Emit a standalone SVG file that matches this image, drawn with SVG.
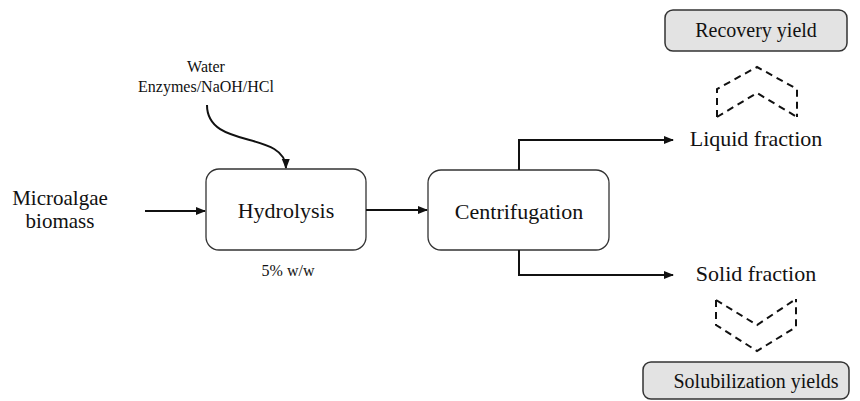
<svg xmlns="http://www.w3.org/2000/svg" width="860" height="401" viewBox="0 0 860 401" font-family="'Liberation Serif', 'Times New Roman', serif">
<style>
text{font-family:'Liberation Serif','Times New Roman',serif;fill:#111;text-anchor:middle}
.box{fill:#fff;stroke:#333;stroke-width:1.3}
.gbox{fill:#e3e3e3;stroke:#333;stroke-width:1.5}
.ln{fill:none;stroke:#111;stroke-width:2}
.dash{fill:none;stroke:#111;stroke-width:2;stroke-dasharray:7 5}
</style>
<defs>
<marker id="ah" markerWidth="10" markerHeight="10" refX="9" refY="5" orient="auto" markerUnits="userSpaceOnUse">
<path d="M0,1 L10,5 L0,9 Z" fill="#111"/>
</marker>
</defs>
<rect width="860" height="401" fill="#fff"/>
<g id="input-label">
<text x="60" y="205" font-family="'Liberation Serif', serif" font-size="21">Microalgae</text>
<text x="60" y="228" font-family="'Liberation Serif', serif" font-size="21">biomass</text>
</g>
<g id="reagents">
<text x="206" y="72" font-family="'Liberation Serif', serif" font-size="16">Water</text>
<text x="206" y="92" font-family="'Liberation Serif', serif" font-size="16">Enzymes/NaOH/HCl</text>
</g>
<g id="hydrolysis">
<rect class="box" x="206" y="169" width="160" height="81" rx="13"/>
<text x="286" y="218" font-family="'Liberation Serif', serif" font-size="22">Hydrolysis</text>
<text x="288" y="276" font-family="'Liberation Serif', serif" font-size="16">5% w/w</text>
</g>
<g id="centrifugation">
<rect class="box" x="428" y="170" width="181" height="80" rx="13"/>
<text x="519" y="219" font-family="'Liberation Serif', serif" font-size="22">Centrifugation</text>
</g>
<g id="liquid">
<text x="756" y="146" font-family="'Liberation Serif', serif" font-size="22">Liquid fraction</text>
</g>
<g id="solid">
<text x="756" y="281" font-family="'Liberation Serif', serif" font-size="22">Solid fraction</text>
</g>
<g id="recovery">
<rect class="gbox" x="665" y="10" width="182" height="41" rx="8"/>
<text x="756" y="37" font-family="'Liberation Serif', serif" font-size="20">Recovery yield</text>
</g>
<g id="solubilization">
<rect class="gbox" x="643" y="362" width="206" height="37" rx="8"/>
<text x="756" y="388" font-family="'Liberation Serif', serif" font-size="20">Solubilization yields</text>
</g>
<g id="connectors">
<line class="ln" x1="145" y1="211" x2="205" y2="211" marker-end="url(#ah)"/>
<path class="ln" d="M207,105 C207,150 285,130 286,168" marker-end="url(#ah)"/>
<line class="ln" x1="366" y1="210" x2="427" y2="210" marker-end="url(#ah)"/>
<path class="ln" d="M519,170 L519,140 L673,140" marker-end="url(#ah)"/>
<path class="ln" d="M519,250 L519,275 L673,275" marker-end="url(#ah)"/>
<path class="dash" d="M717,117 L717,89 L757,67 L797,89 L797,117"/>
<path class="dash" d="M717,117 L757,93 L797,117"/>
<path class="dash" d="M716,300 L716,325 L757,351 L796,327 L796,299"/>
<path class="dash" d="M716,300 L757,325 L796,299"/>
</g>
</svg>
